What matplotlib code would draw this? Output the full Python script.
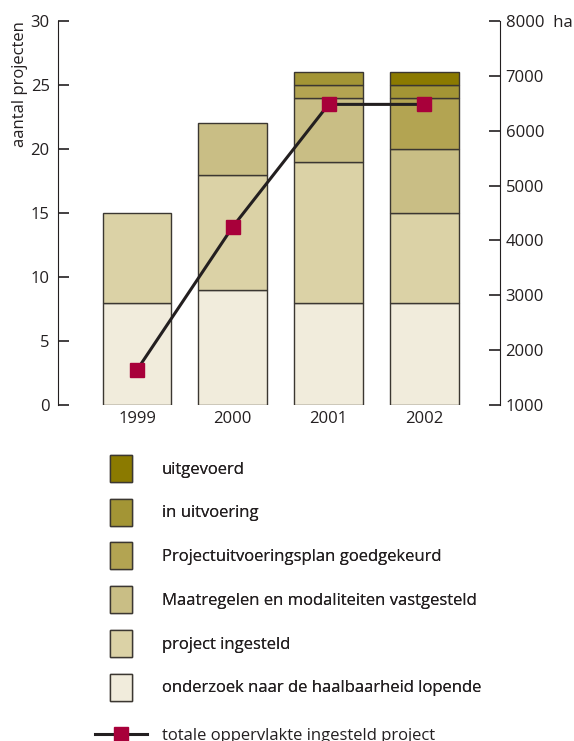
import matplotlib
matplotlib.use("Agg")
import matplotlib.pyplot as plt
from matplotlib.patches import Patch
from matplotlib.lines import Line2D
import numpy as np

plt.rcParams['font.family'] = ['Open Sans', 'DejaVu Sans']

years = ["1999", "2000", "2001", "2002"]
series_names = [
    "onderzoek naar de haalbaarheid lopende",
    "project ingesteld",
    "Maatregelen en modaliteiten vastgesteld",
    "Projectuitvoeringsplan goedgekeurd",
    "in uitvoering",
    "uitgevoerd",
]
onderzoek = [8, 9, 8, 8]
ingesteld = [7, 9, 11, 7]
maatregelen = [0, 4, 5, 5]
puplan = [0, 0, 1, 4]
in_uitvoering = [0, 0, 1, 1]
uitgevoerd = [0, 0, 0, 1]
oppervlakte = [1640, 4250, 6480, 6480]
line_label = "totale oppervlakte ingesteld project"

left_ticks = [0, 5, 10, 15, 20, 25, 30]
right_ticks = [1000, 2000, 3000, 4000, 5000, 6000, 7000, 8000]
right_labels = ["1000", "2000", "3000", "4000", "5000", "6000", "7000", "8000  ha"]

colors = ["#f1ecdc", "#dbd2a6", "#c9be85", "#b3a452", "#a39535", "#8b7a00"]
edge = "#3b3731"
ink = "#231f20"

fig = plt.figure(figsize=(5.74, 7.41), dpi=100)
ax = fig.add_axes([58/574, 1-405/741, (500-58)/574, (405-21)/741])
x = np.arange(len(years))
stack = [onderzoek, ingesteld, maatregelen, puplan, in_uitvoering, uitgevoerd]
bottom = np.zeros(len(years))
for vals, c in zip(stack, colors):
    vals = np.array(vals, dtype=float)
    mask = vals > 0
    ax.bar(x[mask], vals[mask], bottom=bottom[mask], width=0.72, color=c,
           edgecolor=edge, linewidth=1.0, zorder=2)
    bottom += vals

ax.set_xlim(-0.825, 3.79)
ax.set_ylim(0, 30)
ax.set_yticks(left_ticks)
ax.set_xticks(x)
ax.set_xticklabels(years)
for s in ["top", "right", "bottom"]:
    ax.spines[s].set_visible(False)
ax.spines["left"].set_color(ink)
ax.tick_params(axis="y", direction="in", length=8, width=1.2, labelsize=12, pad=6, colors=ink)
ax.tick_params(axis="x", length=0, labelsize=12, pad=4, colors=ink)
ax.set_ylabel("aantal projecten", loc="top", fontsize=12, color=ink, labelpad=2)

ax2 = ax.twinx()
ax2.set_ylim(1000, 8000)
ax2.set_yticks(right_ticks)
ax2.set_yticklabels(right_labels)
for s in ["top", "left", "bottom"]:
    ax2.spines[s].set_visible(False)
ax2.spines["right"].set_color(ink)
ax2.tick_params(axis="y", direction="in", length=8, width=1.2, labelsize=12, pad=4, colors=ink)
ax2.plot(x, oppervlakte, color=ink, linewidth=2.2, marker="s", markersize=10,
         markerfacecolor="#a8003a", markeredgecolor="#a8003a", zorder=5)

handles = [Patch(facecolor=c, edgecolor=edge, linewidth=1.0, label=n)
           for c, n in zip(colors[::-1], series_names[::-1])]
leg1 = fig.legend(handles=handles, loc="upper left", bbox_to_anchor=(110/574, 1-455/741),
                  frameon=False, fontsize=12, handlelength=1.32, handleheight=2.12,
                  labelspacing=1.0, handletextpad=1.8, borderpad=0, borderaxespad=0,
                  labelcolor=ink)
lh = [Line2D([0], [0], color=ink, linewidth=2.2, marker="s", markersize=10,
             markerfacecolor="#a8003a", markeredgecolor="#a8003a", label=line_label)]
leg2 = fig.legend(handles=lh, loc="upper left", bbox_to_anchor=(95/574, 1-728/741),
                  frameon=False, fontsize=12, handlelength=3.12, handletextpad=0.9,
                  borderpad=0, borderaxespad=0, labelcolor=ink)
fig.add_artist(leg1)

fig.savefig("out.png", dpi=100)
